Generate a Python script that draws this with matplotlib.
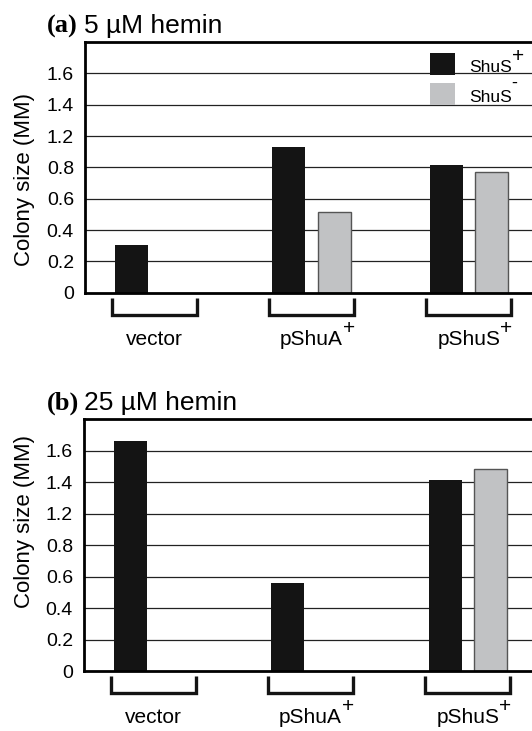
import numpy as np
import matplotlib
matplotlib.use("Agg")
import matplotlib.pyplot as plt
import matplotlib.transforms as mtransforms
from matplotlib.patches import Rectangle

plt.rcParams['font.family'] = ['Liberation Sans', 'DejaVu Sans']

# groups and values (in axis units: one gridline = 0.2)
groups = ['vector', 'pShuA', 'pShuS']
group_sup = ['', '+', '+']
ticks = [0, 0.2, 0.4, 0.6, 0.8, 1.0, 1.2, 1.4]
tick_labels = ['0', '0.2', '0.4', '0.6', '0.8', '1.2', '1.4', '1.6']

a_plus = [0.305, 0.93, 0.816]
a_minus = [np.nan, 0.518, 0.77]
b_plus = [1.462, 0.557, 1.217]
b_minus = [np.nan, np.nan, 1.287]

titles = [('(a)', '5 µM hemin'), ('(b)', '25 µM hemin')]
legend_labels = [('ShuS', '+'), ('ShuS', '-')]

W, H = 532, 731
fig = plt.figure(figsize=(W / 100, H / 100), dpi=100)

black = '#141414'
grey = '#c1c2c4'
x = np.arange(len(groups))
bw = 0.21
off = 0.145

sups = []  # (text artist, superscript string, size, raise in em)


def draw(ax, plus, minus):
    ax.set_xlim(-0.44, 2.45)
    ax.set_ylim(0, 1.6)
    ax.set_axisbelow(True)
    for t in ticks[1:]:
        ax.axhline(t, color='#222222', lw=0.9, zorder=0)
    ax.bar(x - off, plus, bw, color=black, zorder=2)
    ax.bar(x + off, minus, bw, color=grey, edgecolor='#555555', lw=1, zorder=2)
    ax.set_xticks([])
    ax.set_yticks(ticks)
    ax.set_yticklabels(tick_labels, fontsize=14)
    ax.tick_params(axis='y', length=0, pad=8)
    for s in ['left', 'bottom', 'top']:
        ax.spines[s].set_linewidth(2)
    ax.spines['right'].set_visible(False)
    trans = mtransforms.blended_transform_factory(ax.transData, ax.transAxes)
    for i, g in enumerate(groups):
        ax.plot([i - 0.27, i - 0.27, i + 0.27, i + 0.27],
                [-0.02, -0.088, -0.088, -0.02], color=black, lw=2.4,
                transform=trans, clip_on=False, solid_joinstyle='miter',
                solid_capstyle='butt')
        t = ax.text(i, -0.208, g, transform=trans, ha='center', va='baseline',
                    fontsize=15)
        if group_sup[i]:
            sups.append((t, group_sup[i], 15, 0.78))


ax1 = fig.add_axes([85 / W, (H - 292.7) / H, 454.7 / W, 250.7 / H])
draw(ax1, a_plus, a_minus)
ax2 = fig.add_axes([84 / W, (H - 671) / H, 454.7 / W, 251.7 / H])
draw(ax2, b_plus, b_minus)

# panel titles
for (lab, txt), base in zip(titles, [33, 410]):
    fig.text(47 / W, 1 - base / H, lab, fontsize=19, fontweight='bold',
             family='Liberation Serif', va='baseline')
    fig.text(84 / W, 1 - base / H, txt, fontsize=19, va='baseline')

fig.text(25 / W, 1 - 179 / H, 'Colony size (MM)', rotation=90, fontsize=16,
         ha='center', va='center')
fig.text(25 / W, 1 - 522 / H, 'Colony size (MM)', rotation=90, fontsize=16,
         ha='center', va='center')

# legend drawn by hand (pixel layout of the original)
for (lab, sup), col, top, base, up in zip(legend_labels, [black, grey],
                                          [53, 83], [71.5, 101.5], [0.8, 1.0]):
    fig.patches.append(Rectangle((430 / W, 1 - (top + 22) / H), 25 / W, 22 / H,
                                 facecolor=col, edgecolor='none',
                                 transform=fig.transFigure, figure=fig))
    t = fig.text(469 / W, 1 - base / H, lab, fontsize=12.5, va='baseline')
    sups.append((t, sup, 15 if sup == '+' else 13, up))

# superscripts placed right after their base text
fig.canvas.draw()
r = fig.canvas.get_renderer()
for t, s, size, up in sups:
    bb = t.get_window_extent(r)
    em = t.get_fontsize() * fig.dpi / 72
    base = bb.y0 + 0.21 * em
    fig.text(bb.x1 / W, (base + up * em) / H, s, fontsize=size,
             ha='left', va='center')

fig.savefig('out.png', dpi=100)
